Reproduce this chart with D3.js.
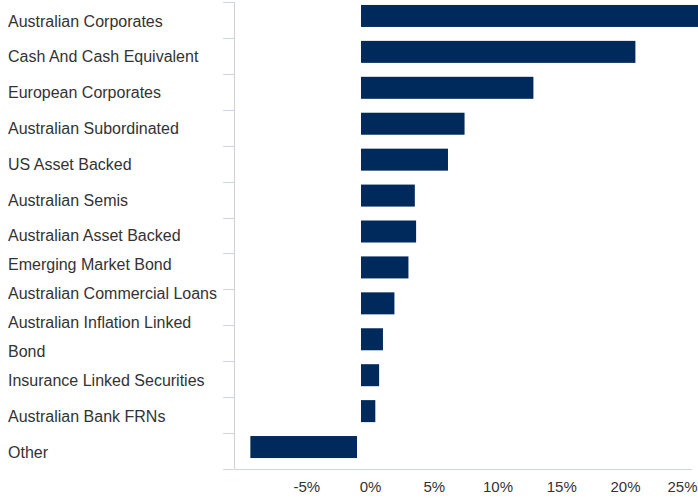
<!DOCTYPE html>
<html>
<head>
<meta charset="utf-8">
<script src="https://cdn.jsdelivr.net/npm/d3@7"></script>
<style>
  body { margin: 0; background: #fff; }
  svg { display: block; font-family: "Liberation Sans", Arial, sans-serif; }
</style>
</head>
<body>
<svg id="drawing_region"></svg>
<script>
// sector allocation (%)
const categories = [
    'Australian Corporates',
    'Cash And Cash Equivalent',
    'European Corporates',
    'Australian Subordinated',
    'US Asset Backed',
    'Australian Semis',
    'Australian Asset Backed',
    'Emerging Market Bond',
    'Australian Commercial Loans',
    'Australian Inflation Linked Bond',
    'Insurance Linked Securities',
    'Australian Bank FRNs',
    'Other'
];
const values = [27, 21.6, 13.6, 8.2, 6.9, 4.3, 4.4, 3.8, 2.7, 1.8, 1.5, 1.2, -8.6];
const xTicks = [-5, 0, 5, 10, 15, 20, 25];

class HBarChart {
    constructor(config, cats, vals) {
        this.config = {
            parent: config.parent,
            width: config.width || 698,
            height: config.height || 499,
            axisX: config.axisX || 234.5,
            top: config.top || 2,
            bottom: config.bottom || 469,
            right: config.right || 692,
            color: config.color || '#002a5c',
            labelWidth: config.labelWidth || 216,
            lineHeight: config.lineHeight || 29,
        };
        this.cats = cats;
        this.vals = vals;
        this.init();
    }

    init() {
        let self = this;
        self.svg = d3.select(self.config.parent)
            .attr('width', self.config.width)
            .attr('height', self.config.height);

        self.x = d3.scaleLinear()
            .domain([-5, 25])
            .range([296.25, 678.75]);

        self.y = d3.scaleBand()
            .domain(self.cats)
            .range([self.config.top, self.config.bottom]);
    }

    render() {
        let self = this;
        const c = self.config;
        const x0 = self.x(0);
        const bh = 22;

        // bars
        self.svg.selectAll('.bar')
            .data(self.cats.map((d, i) => ({ cat: d, value: self.vals[i] })))
            .enter()
            .append('rect')
            .attr('class', 'bar')
            .attr('x', d => d.value >= 0 ? x0 + 1 : self.x(d.value))
            .attr('width', d => d.value >= 0 ? self.x(d.value) - x0 - 1 : x0 - 3 - self.x(d.value))
            .attr('y', d => self.y(d.cat) + self.y.bandwidth() / 2 - bh / 2 - 4)
            .attr('height', bh)
            .attr('fill', c.color);

        // y axis line + ticks at band edges
        self.svg.append('line')
            .attr('x1', c.axisX).attr('x2', c.axisX)
            .attr('y1', c.top).attr('y2', c.bottom)
            .attr('stroke', '#d0d0d0').attr('stroke-width', 1);

        const edges = self.cats.map(d => self.y(d)).concat([c.bottom]);
        self.svg.selectAll('.ytick')
            .data(edges)
            .enter()
            .append('line')
            .attr('class', 'ytick')
            .attr('x1', 223).attr('x2', c.axisX - 0.5)
            .attr('y1', d => Math.round(d) + 0.5)
            .attr('y2', d => Math.round(d) + 0.5)
            .attr('stroke', '#ccd6eb').attr('stroke-width', 1);

        // x axis line
        self.svg.append('line')
            .attr('x1', c.axisX).attr('x2', c.right)
            .attr('y1', c.bottom + 0.5).attr('y2', c.bottom + 0.5)
            .attr('stroke', '#ccd6eb').attr('stroke-width', 1);

        // category labels: wrap, place at band centre, then push up to avoid overlaps
        const probe = self.svg.append('text').style('font-size', '16px');
        const lab = self.cats.map(d => {
            const lines = splitLines(probe, d, c.labelWidth);
            // wrapped labels sit a little higher in the source chart
            const mid = self.y(d) + self.y.bandwidth() / 2 + 1 - (lines.length > 1 ? 7 : 0);
            const first = mid - (lines.length - 1) / 2 * c.lineHeight;
            return { cat: d, lines: lines, first: first };
        });
        probe.remove();
        for (let i = lab.length - 2; i >= 0; i--) {
            const last = lab[i].first + (lab[i].lines.length - 1) * c.lineHeight;
            const limit = lab[i + 1].first - c.lineHeight;
            if (last > limit) lab[i].first -= (last - limit);
        }

        const labels = self.svg.selectAll('.ylab')
            .data(lab)
            .enter()
            .append('text')
            .attr('class', 'ylab')
            .attr('fill', '#333333')
            .style('font-size', '16px');
        labels.each(function(d) {
            d3.select(this).selectAll('tspan')
                .data(d.lines)
                .enter()
                .append('tspan')
                .attr('x', 8)
                .attr('y', (l, i) => d.first + i * c.lineHeight)
                .attr('dy', '0.35em')
                .text(l => l);
        });

        // x axis labels
        const xAxis = d3.axisBottom(self.x)
            .tickValues(xTicks)
            .tickSize(0)
            .tickFormat(d => d + '%');
        const gx = self.svg.append('g')
            .attr('transform', `translate(10, 478)`)
            .call(xAxis);
        gx.select('.domain').remove();
        gx.selectAll('text')
            .attr('fill', '#333333')
            .style('font-size', '15px')
            .style('font-family', '"Liberation Sans", Arial, sans-serif')
            .each(function(d) {
                const t = d3.select(this);
                const w = this.getComputedTextLength();
                const cx = self.x(d) + 10;
                if (cx + w / 2 > c.width - 1) {
                    t.attr('text-anchor', 'end')
                     .attr('x', (c.width - 1) - cx);
                }
            });
    }
}

function splitLines(probe, str, maxW) {
    const words = str.split(' ');
    let lines = [];
    let line = [];
    words.forEach(w => {
        line.push(w);
        probe.text(line.join(' '));
        if (probe.node().getComputedTextLength() > maxW && line.length > 1) {
            line.pop();
            lines.push(line.join(' '));
            line = [w];
        }
    });
    lines.push(line.join(' '));
    return lines;
}

const chart = new HBarChart({ parent: '#drawing_region', width: 698, height: 499 }, categories, values);
chart.render();
</script>
</body>
</html>
